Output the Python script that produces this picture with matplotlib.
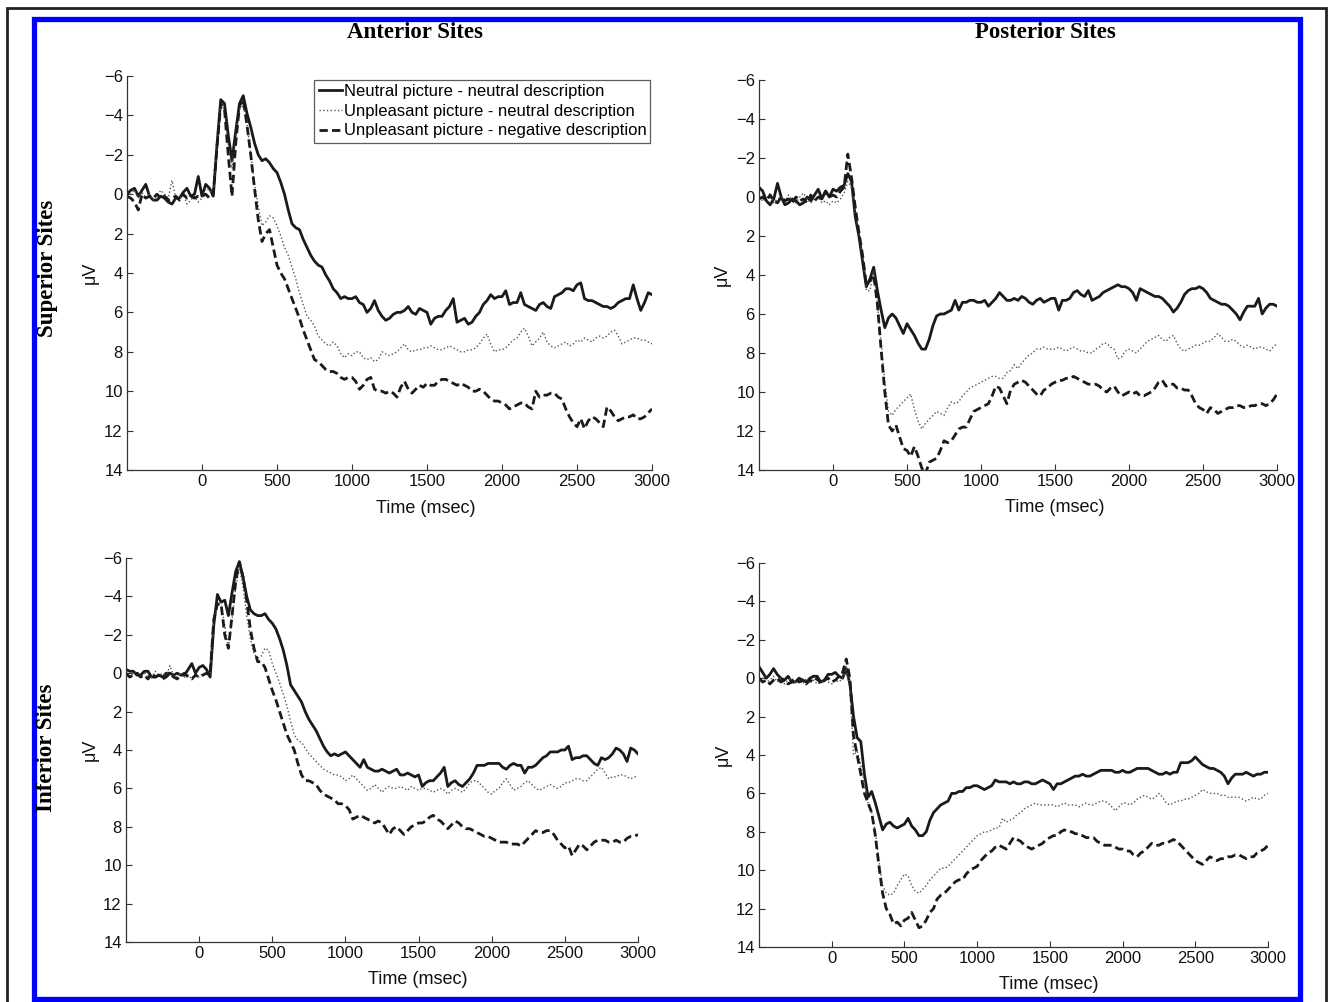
import numpy as np
import matplotlib
matplotlib.use("Agg")
import matplotlib.pyplot as plt
from matplotlib.patches import Rectangle

plt.rcParams['font.family'] = ['Liberation Sans', 'DejaVu Sans']

# time base (msec), 25 ms steps
t = np.arange(-500, 3001, 25)

# ---- Anterior / Superior
as_neu = [0.0, -0.2, -0.3, 0.1, -0.2, -0.5, 0.1, 0.3, 0.3, 0.1, 0.2, 0.4, 0.5, 0.2, 0.2, -0.1, -0.3, 0.1, 0.0, -0.9,
          0.1, -0.5, -0.3, 0.1, -2.5, -4.8, -4.6, -3.0, -1.7, -3.2, -4.6, -5.0, -4.1, -3.4, -2.6, -2.0, -1.7, -1.8, -1.6, -1.3,
          -1.1, -0.6, 0.0, 0.8, 1.5, 1.7, 1.8, 2.3, 2.7, 3.1, 3.4, 3.6, 3.7, 4.1, 4.4, 4.8, 5.0, 5.3, 5.2, 5.3,
          5.3, 5.2, 5.5, 5.6, 6.0, 5.8, 5.4, 5.9, 6.2, 6.4, 6.3, 6.1, 6.0, 6.0, 5.9, 5.7, 6.0, 6.1, 5.8, 5.9,
          6.0, 6.6, 6.3, 6.2, 6.2, 5.9, 5.7, 5.3, 6.5, 6.4, 6.3, 6.6, 6.5, 6.2, 6.0, 5.6, 5.4, 5.1, 5.3, 5.2,
          5.2, 4.9, 5.6, 5.5, 5.5, 5.0, 5.6, 5.7, 5.8, 5.9, 5.6, 5.5, 5.7, 5.8, 5.2, 5.1, 5.0, 4.8, 4.8, 4.9,
          4.6, 4.5, 5.3, 5.4, 5.4, 5.5, 5.6, 5.7, 5.7, 5.8, 5.7, 5.5, 5.4, 5.3, 5.3, 4.6, 5.3, 5.9, 5.5, 5.0,
          5.1]
as_unn = [0.1, 0.0, -0.2, 0.2, -0.1, 0.2, 0.0, 0.3, 0.1, -0.2, 0.0, 0.2, -0.7, 0.2, 0.3, 0.0, 0.5, 0.3, 0.1, 0.4,
          0.2, -0.3, -0.2, 0.0, -2.3, -4.5, -4.3, -2.5, -1.3, -3.0, -4.3, -4.5, -3.6, -2.0, -0.5, 0.6, 1.6, 1.4, 1.1, 1.2,
          1.6, 2.1, 2.7, 3.1, 3.7, 4.3, 5.0, 5.6, 6.2, 6.4, 6.7, 7.2, 7.4, 7.6, 7.7, 7.5, 7.7, 8.1, 8.3, 8.1,
          8.2, 8.0, 8.0, 8.3, 8.4, 8.3, 8.5, 8.4, 8.0, 8.1, 8.2, 8.1, 8.0, 7.8, 7.6, 7.9, 8.0, 7.9, 7.9, 7.8,
          7.8, 7.7, 7.8, 7.9, 7.9, 7.8, 7.7, 7.8, 7.9, 8.0, 8.0, 7.9, 7.9, 7.8, 7.6, 7.3, 7.1, 7.6, 8.0, 7.9,
          7.9, 7.8, 7.6, 7.4, 7.3, 7.0, 6.8, 7.2, 7.7, 7.5, 7.3, 7.0, 7.5, 7.7, 7.8, 7.7, 7.6, 7.5, 7.7, 7.6,
          7.4, 7.5, 7.3, 7.4, 7.5, 7.3, 7.2, 7.3, 7.2, 7.0, 6.9, 7.2, 7.6, 7.5, 7.4, 7.3, 7.3, 7.4, 7.4, 7.5,
          7.6]
as_ung = [0.1, 0.2, 0.4, 0.8, 0.0, 0.2, 0.1, 0.2, 0.0, 0.2, 0.1, 0.3, 0.2, 0.1, 0.3, 0.0, 0.2, 0.1, 0.2, 0.1,
          0.1, 0.0, 0.2, 0.0, -2.4, -4.6, -4.3, -2.0, 0.1, -2.6, -4.5, -4.8, -3.5, -2.0, -0.3, 1.3, 2.4, 2.0, 1.8, 2.7,
          3.6, 4.0, 4.3, 4.8, 5.3, 5.8, 6.3, 6.9, 7.4, 7.9, 8.4, 8.5, 8.7, 8.9, 9.0, 9.0, 9.1, 9.3, 9.4, 9.3,
          9.3, 9.5, 9.9, 9.7, 9.4, 9.3, 9.9, 10.0, 10.0, 10.1, 10.0, 10.1, 10.3, 9.8, 9.5, 9.9, 10.1, 9.9, 9.7, 9.8,
          9.6, 9.7, 9.7, 9.5, 9.4, 9.4, 9.5, 9.6, 9.7, 9.6, 9.7, 9.8, 10.0, 10.0, 9.9, 10.0, 10.2, 10.4, 10.5, 10.5,
          10.6, 10.7, 10.9, 10.8, 10.7, 10.6, 10.6, 10.8, 10.9, 10.0, 10.3, 10.2, 10.2, 10.1, 10.1, 10.3, 10.4, 10.9, 11.3, 11.6,
          11.8, 11.4, 11.9, 11.5, 11.3, 11.4, 11.6, 11.8, 10.8, 11.0, 11.3, 11.5, 11.4, 11.3, 11.3, 11.2, 11.4, 11.4, 11.3, 11.1,
          10.9]

# ---- Posterior / Superior
ps_neu = [-0.5, -0.3, 0.2, 0.4, 0.1, -0.7, 0.0, 0.4, 0.3, 0.1, 0.2, 0.4, 0.3, 0.0, 0.2, -0.1, -0.4, 0.1, -0.3, 0.0,
          -0.4, -0.3, -0.5, -0.6, -1.2, -0.8, 1.0, 2.0, 3.3, 4.6, 4.2, 3.6, 4.8, 5.8, 6.7, 6.2, 6.0, 6.2, 6.6, 7.0,
          6.5, 6.8, 7.1, 7.5, 7.8, 7.8, 7.3, 6.6, 6.1, 6.0, 6.0, 5.9, 5.8, 5.3, 5.8, 5.4, 5.4, 5.3, 5.3, 5.4,
          5.4, 5.3, 5.6, 5.4, 5.2, 4.9, 5.1, 5.3, 5.3, 5.2, 5.3, 5.1, 5.2, 5.4, 5.5, 5.3, 5.2, 5.4, 5.3, 5.2,
          5.2, 5.8, 5.3, 5.3, 5.2, 4.9, 4.8, 5.0, 5.1, 4.8, 5.3, 5.2, 5.1, 4.9, 4.8, 4.7, 4.6, 4.5, 4.6, 4.6,
          4.7, 4.9, 5.3, 4.7, 4.8, 4.9, 5.0, 5.1, 5.1, 5.2, 5.4, 5.6, 5.9, 5.7, 5.4, 5.0, 4.8, 4.7, 4.7, 4.6,
          4.7, 4.9, 5.2, 5.3, 5.4, 5.5, 5.5, 5.6, 5.8, 6.0, 6.3, 5.9, 5.6, 5.6, 5.6, 5.2, 6.0, 5.7, 5.5, 5.5,
          5.6]
ps_unn = [0.0, 0.2, 0.1, -0.2, 0.3, 0.1, 0.0, 0.2, -0.1, 0.2, 0.3, 0.0, -0.2, 0.1, 0.3, 0.1, 0.0, 0.3, 0.2, 0.4,
          0.2, 0.3, 0.1, -0.2, -0.8, -0.5, 0.8, 1.9, 3.0, 4.8, 4.8, 3.8, 5.5, 7.5, 9.5, 11.0, 11.2, 10.9, 10.7, 10.5,
          10.3, 10.1, 10.9, 11.5, 11.9, 11.6, 11.4, 11.2, 11.0, 11.1, 11.2, 10.8, 10.5, 10.6, 10.5, 10.2, 10.0, 9.8, 9.7, 9.6,
          9.5, 9.4, 9.3, 9.2, 9.2, 9.3, 9.3, 9.0, 8.9, 8.6, 8.8, 8.5, 8.3, 8.1, 8.0, 7.8, 7.8, 7.7, 7.8, 7.8,
          7.8, 7.7, 7.8, 7.9, 7.8, 7.7, 7.8, 7.9, 7.9, 8.0, 8.0, 7.8, 7.7, 7.5, 7.5, 7.7, 7.8, 8.3, 8.2, 7.9,
          7.8, 7.9, 8.0, 7.8, 7.6, 7.4, 7.3, 7.2, 7.1, 7.3, 7.4, 7.2, 7.1, 7.5, 7.8, 7.9, 7.8, 7.7, 7.6, 7.6,
          7.5, 7.4, 7.4, 7.2, 7.0, 7.2, 7.4, 7.4, 7.3, 7.4, 7.6, 7.7, 7.6, 7.7, 7.8, 7.7, 7.7, 7.8, 7.9, 7.7,
          7.5]
ps_ung = [0.1, 0.0, 0.2, -0.1, 0.2, 0.3, 0.0, 0.2, 0.1, 0.3, 0.0, 0.2, 0.1, 0.3, -0.1, 0.2, 0.0, 0.1, -0.3, 0.0,
          -0.1, 0.0, -0.3, -0.5, -2.2, -1.0, 0.5, 1.8, 3.0, 4.5, 4.3, 4.0, 5.5, 7.8, 10.0, 11.7, 12.0, 11.7, 12.3, 12.9,
          13.0, 13.3, 12.8, 13.3, 13.9, 14.2, 13.6, 13.5, 13.4, 13.0, 12.5, 12.6, 12.5, 12.2, 11.9, 11.8, 11.8, 11.4, 11.0, 10.9,
          10.8, 10.7, 10.6, 10.2, 9.7, 9.8, 10.2, 10.6, 9.9, 9.6, 9.5, 9.4, 9.5, 9.7, 9.9, 10.1, 10.2, 9.9, 9.8, 9.6,
          9.5, 9.4, 9.4, 9.3, 9.3, 9.2, 9.3, 9.4, 9.5, 9.6, 9.6, 9.6, 9.7, 9.9, 10.0, 9.8, 9.7, 10.0, 10.2, 10.1,
          10.0, 10.1, 10.0, 10.2, 10.2, 10.1, 10.0, 9.8, 9.5, 9.4, 9.7, 9.6, 9.6, 9.8, 9.8, 9.9, 9.9, 10.2, 10.6, 10.8,
          10.9, 11.1, 10.8, 10.9, 11.1, 11.0, 10.9, 10.8, 10.8, 10.7, 10.7, 10.8, 10.8, 10.7, 10.7, 10.6, 10.6, 10.7, 10.6, 10.4,
          10.1]

# ---- Anterior / Inferior
ai_neu = [-0.2, -0.1, -0.1, 0.1, 0.1, -0.1, -0.1, 0.2, 0.2, 0.1, 0.2, 0.0, 0.0, 0.1, 0.0, 0.1, 0.1, -0.2, -0.5, 0.0,
          -0.3, -0.4, -0.2, 0.2, -2.5, -4.1, -3.7, -3.8, -3.0, -4.2, -5.3, -5.8, -5.0, -4.0, -3.3, -3.1, -3.0, -3.0, -3.1, -2.8,
          -2.6, -2.3, -1.8, -1.2, -0.4, 0.6, 0.9, 1.2, 1.5, 2.0, 2.4, 2.7, 3.0, 3.4, 3.8, 4.1, 4.3, 4.2, 4.3, 4.2,
          4.1, 4.3, 4.5, 4.7, 4.9, 4.5, 4.9, 5.0, 5.1, 5.1, 5.0, 5.1, 5.2, 5.1, 5.0, 5.3, 5.3, 5.2, 5.3, 5.4,
          5.3, 5.9, 5.7, 5.6, 5.6, 5.4, 5.2, 4.9, 5.9, 5.7, 5.6, 5.8, 5.9, 5.7, 5.5, 5.2, 4.8, 4.8, 4.8, 4.7,
          4.7, 4.7, 4.7, 4.9, 5.0, 4.8, 4.7, 4.8, 4.8, 5.2, 4.9, 4.9, 4.8, 4.6, 4.4, 4.3, 4.1, 4.1, 4.1, 4.0,
          4.0, 3.8, 4.5, 4.4, 4.4, 4.3, 4.3, 4.5, 4.7, 4.8, 4.4, 4.5, 4.4, 4.2, 3.9, 4.0, 4.2, 4.6, 3.9, 4.0,
          4.2]
ai_unn = [0.1, 0.2, 0.0, -0.1, 0.2, 0.0, 0.1, 0.2, -0.1, 0.1, 0.0, 0.2, -0.4, 0.1, 0.2, 0.0, 0.2, 0.1, 0.3, 0.1,
          0.2, 0.0, 0.1, 0.0, -2.8, -3.6, -3.5, -2.5, -1.3, -2.8, -4.5, -5.5, -4.5, -3.0, -1.8, -1.0, -0.8, -0.9, -1.3, -1.2,
          -0.5, 0.0, 0.5, 1.1, 1.7, 2.5, 3.2, 3.5, 3.6, 3.9, 4.2, 4.4, 4.6, 4.8, 5.0, 5.1, 5.2, 5.3, 5.3, 5.4,
          5.6, 5.5, 5.3, 5.5, 5.7, 5.9, 6.1, 6.0, 5.8, 6.0, 6.2, 6.0, 5.9, 6.0, 6.0, 5.9, 6.0, 6.1, 5.9, 6.0,
          6.1, 6.0, 6.0, 6.1, 6.2, 6.1, 6.0, 6.1, 6.3, 6.1, 6.0, 6.1, 6.2, 6.0, 5.7, 5.6, 5.6, 5.8, 6.0, 6.2,
          6.3, 6.1, 6.0, 5.7, 5.5, 5.8, 6.1, 6.0, 5.9, 5.7, 5.6, 5.8, 6.0, 6.1, 6.0, 5.9, 5.8, 5.9, 6.0, 5.9,
          5.7, 5.7, 5.6, 5.5, 5.5, 5.6, 5.6, 5.4, 5.2, 5.0, 4.9, 5.2, 5.5, 5.4, 5.4, 5.3, 5.3, 5.4, 5.5, 5.4,
          5.4]
ai_ung = [0.0, 0.2, 0.1, 0.0, 0.2, 0.1, 0.3, 0.0, 0.2, 0.1, 0.3, 0.2, 0.0, 0.2, 0.3, 0.1, 0.0, 0.2, 0.3, 0.1,
          0.2, 0.1, 0.0, 0.1, -2.8, -3.6, -3.6, -2.0, -1.3, -3.0, -4.8, -5.8, -5.0, -3.8, -2.3, -1.3, -0.6, -0.6, -0.3, 0.3,
          0.9, 1.4, 2.0, 2.6, 3.2, 3.6, 4.0, 4.7, 5.3, 5.6, 5.6, 5.7, 5.8, 6.1, 6.3, 6.4, 6.5, 6.6, 6.8, 6.8,
          6.9, 7.1, 7.6, 7.5, 7.4, 7.5, 7.6, 7.7, 7.8, 7.7, 7.8, 8.1, 8.4, 8.1, 8.0, 8.2, 8.4, 8.2, 8.0, 7.9,
          7.8, 7.8, 7.7, 7.5, 7.4, 7.6, 7.7, 7.9, 8.1, 7.9, 7.7, 7.8, 8.0, 8.1, 8.1, 8.2, 8.3, 8.4, 8.5, 8.5,
          8.6, 8.7, 8.8, 8.8, 8.8, 8.9, 8.9, 8.9, 9.0, 8.8, 8.6, 8.4, 8.2, 8.3, 8.3, 8.2, 8.2, 8.4, 8.7, 8.9,
          9.1, 9.0, 9.5, 9.2, 8.9, 9.0, 9.2, 9.0, 8.8, 8.7, 8.7, 8.7, 8.8, 8.8, 8.7, 8.8, 8.8, 8.6, 8.5, 8.5,
          8.4]

# ---- Posterior / Inferior
pi_neu = [-0.6, -0.3, 0.0, -0.2, -0.5, -0.2, 0.0, 0.1, -0.1, 0.2, 0.2, 0.0, 0.1, 0.2, 0.0, -0.1, -0.1, 0.2, 0.1, -0.2,
          -0.2, -0.3, -0.1, 0.0, -0.5, 0.3, 2.0, 3.1, 3.3, 5.0, 6.2, 5.9, 6.5, 7.2, 7.9, 7.6, 7.5, 7.7, 7.8, 7.7,
          7.6, 7.3, 7.7, 7.9, 8.2, 8.2, 8.0, 7.4, 7.0, 6.8, 6.6, 6.5, 6.4, 6.0, 6.0, 5.9, 5.9, 5.7, 5.7, 5.6,
          5.6, 5.7, 5.8, 5.7, 5.6, 5.3, 5.4, 5.4, 5.4, 5.5, 5.4, 5.5, 5.5, 5.4, 5.4, 5.5, 5.5, 5.4, 5.3, 5.4,
          5.5, 5.8, 5.5, 5.5, 5.4, 5.3, 5.2, 5.1, 5.1, 5.0, 5.1, 5.1, 5.0, 4.9, 4.8, 4.8, 4.8, 4.8, 4.9, 4.9,
          4.8, 4.9, 4.9, 4.8, 4.7, 4.7, 4.7, 4.7, 4.8, 4.9, 5.0, 5.0, 4.9, 5.0, 4.9, 4.9, 4.4, 4.4, 4.4, 4.3,
          4.1, 4.3, 4.5, 4.6, 4.7, 4.7, 4.8, 4.9, 5.1, 5.5, 5.2, 5.0, 5.0, 5.0, 4.9, 5.0, 5.1, 5.0, 5.0, 4.9,
          4.9]
pi_unn = [0.1, 0.0, 0.2, 0.1, -0.1, 0.2, 0.0, 0.3, 0.1, 0.0, 0.2, 0.1, 0.3, 0.0, 0.2, 0.1, 0.3, 0.2, 0.1, 0.2,
          0.3, 0.1, 0.2, 0.0, -0.6, 0.5, 4.0, 3.8, 4.5, 5.5, 6.5, 7.0, 8.0, 9.5, 10.8, 11.2, 11.3, 11.2, 10.8, 10.5,
          10.2, 10.3, 10.8, 11.1, 11.2, 11.0, 10.8, 10.5, 10.3, 10.1, 9.9, 9.9, 9.8, 9.6, 9.4, 9.2, 9.0, 8.8, 8.6, 8.4,
          8.2, 8.1, 8.0, 8.0, 7.9, 7.8, 7.8, 7.3, 7.5, 7.4, 7.3, 7.1, 7.0, 6.8, 6.7, 6.6, 6.5, 6.6, 6.6, 6.6,
          6.6, 6.6, 6.7, 6.6, 6.5, 6.6, 6.6, 6.6, 6.7, 6.6, 6.5, 6.6, 6.6, 6.5, 6.4, 6.4, 6.5, 6.7, 6.9, 6.7,
          6.5, 6.5, 6.6, 6.5, 6.3, 6.2, 6.1, 6.2, 6.3, 6.2, 6.0, 6.2, 6.5, 6.6, 6.5, 6.4, 6.4, 6.3, 6.3, 6.2,
          6.1, 6.0, 5.8, 5.9, 6.0, 6.0, 6.0, 6.1, 6.1, 6.2, 6.2, 6.2, 6.2, 6.3, 6.4, 6.3, 6.2, 6.3, 6.3, 6.1,
          6.0]
pi_ung = [0.0, 0.2, 0.1, 0.3, 0.1, 0.0, 0.2, 0.1, 0.3, 0.2, 0.0, 0.2, 0.1, 0.3, 0.1, 0.2, 0.0, 0.3, 0.1, 0.0,
          0.2, 0.1, -0.1, -0.3, -1.0, 0.0, 3.0, 4.0, 5.0, 6.0, 6.5, 7.0, 8.2, 9.8, 11.2, 12.0, 12.3, 12.8, 12.7, 12.9,
          12.6, 12.5, 12.2, 12.6, 13.0, 12.9, 12.6, 12.2, 12.0, 11.5, 11.3, 11.2, 11.0, 10.8, 10.6, 10.5, 10.5, 10.2, 10.0, 9.9,
          9.8, 9.5, 9.3, 9.1, 9.0, 8.8, 8.7, 8.8, 8.9, 8.6, 8.3, 8.4, 8.5, 8.7, 8.8, 8.9, 8.8, 8.7, 8.6, 8.4,
          8.3, 8.2, 8.2, 8.0, 7.9, 8.0, 8.0, 8.1, 8.1, 8.2, 8.3, 8.3, 8.3, 8.5, 8.6, 8.7, 8.7, 8.7, 8.8, 8.9,
          8.9, 9.0, 9.0, 9.2, 9.3, 9.1, 9.0, 8.8, 8.6, 8.7, 8.7, 8.6, 8.6, 8.5, 8.4, 8.5, 8.7, 8.9, 9.1, 9.3,
          9.5, 9.6, 9.7, 9.5, 9.3, 9.4, 9.5, 9.4, 9.4, 9.3, 9.3, 9.2, 9.2, 9.3, 9.4, 9.3, 9.3, 9.1, 9.0, 8.9,
          8.7]

labels = ["Neutral picture - neutral description",
          "Unpleasant picture - neutral description",
          "Unpleasant picture - negative description"]
yticks = list(range(-6, 15, 2))
xticks = list(range(0, 3001, 500))

fig = plt.figure(figsize=(13.28, 10.02), dpi=100)
W, H = 1328.0, 1002.0

def px_rect(l, r, top, bot):
    return [l / W, (H - bot) / H, (r - l) / W, (bot - top) / H]

panels = [
    (px_rect(127, 652, 76, 470), as_neu, as_unn, as_ung, True),
    (px_rect(759, 1277, 80, 470), ps_neu, ps_unn, ps_ung, False),
    (px_rect(126, 638, 558, 942), ai_neu, ai_unn, ai_ung, False),
    (px_rect(759, 1268, 563, 947), pi_neu, pi_unn, pi_ung, False),
]

for rect, neu, unn, ung, leg in panels:
    ax = fig.add_axes(rect)
    ax.plot(t, neu, color='#1a1a1a', lw=2.0, ls='-', label=labels[0])
    ax.plot(t, unn, color='#555555', lw=1.0, ls=':', label=labels[1])
    ax.plot(t, ung, color='#1a1a1a', lw=2.0, ls=(0, (3, 1.5)), label=labels[2])
    ax.set_xlim(-500, 3000)
    ax.set_ylim(14, -6)
    ax.set_xticks(xticks)
    ax.set_yticks(yticks)
    ax.spines['top'].set_visible(False)
    ax.spines['right'].set_visible(False)
    for s in ('left', 'bottom'):
        ax.spines[s].set_color('#333333')
        ax.spines[s].set_linewidth(0.9)
    ax.tick_params(direction='in', length=4, width=0.8, labelsize=12,
                   colors='#333333', labelcolor='#111111', pad=3)
    ax.set_xlabel("Time (msec)", fontsize=13, color='#111111')
    ax.xaxis.set_label_coords(0.57, -0.075)
    ax.set_ylabel("μV", fontsize=13, color='#111111')
    ax.yaxis.set_label_coords(-0.054, 0.5)
    if leg:
        lg = ax.legend(loc='upper right', bbox_to_anchor=(0.997, 0.99), fontsize=12,
                       frameon=True, fancybox=False, handlelength=1.4, handletextpad=0.1,
                       labelspacing=0.28, borderpad=0.25, borderaxespad=0.0)
        lg.get_frame().set_edgecolor('#333333')
        lg.get_frame().set_linewidth(0.9)

serif = dict(family=['Liberation Serif', 'DejaVu Serif'], fontweight='bold', fontsize=16.5)
fig.text(415 / W, 1 - 32 / H, "Anterior Sites", ha='center', va='center', **serif)
fig.text(1045 / W, 1 - 32 / H, "Posterior Sites", ha='center', va='center', **serif)
fig.text(47 / W, 1 - 268 / H, "Superior Sites", ha='center', va='center', rotation=90, **serif)
fig.text(47 / W, 1 - 748 / H, "Inferior Sites", ha='center', va='center', rotation=90, **serif)

# outer black frame and blue frame
fig.patches.append(Rectangle((7 / W, -0.02), (1326 - 7) / W, 1 - 8 / H + 0.02,
                             transform=fig.transFigure, fill=False, ec='#222222', lw=2.0))
fig.patches.append(Rectangle((33.5 / W, 1 - 998.5 / H), (1299.5 - 33.5) / W, (998.5 - 18.5) / H,
                             transform=fig.transFigure, fill=False, ec='#0000ff', lw=3.8))

fig.savefig("out.png", dpi=100)
